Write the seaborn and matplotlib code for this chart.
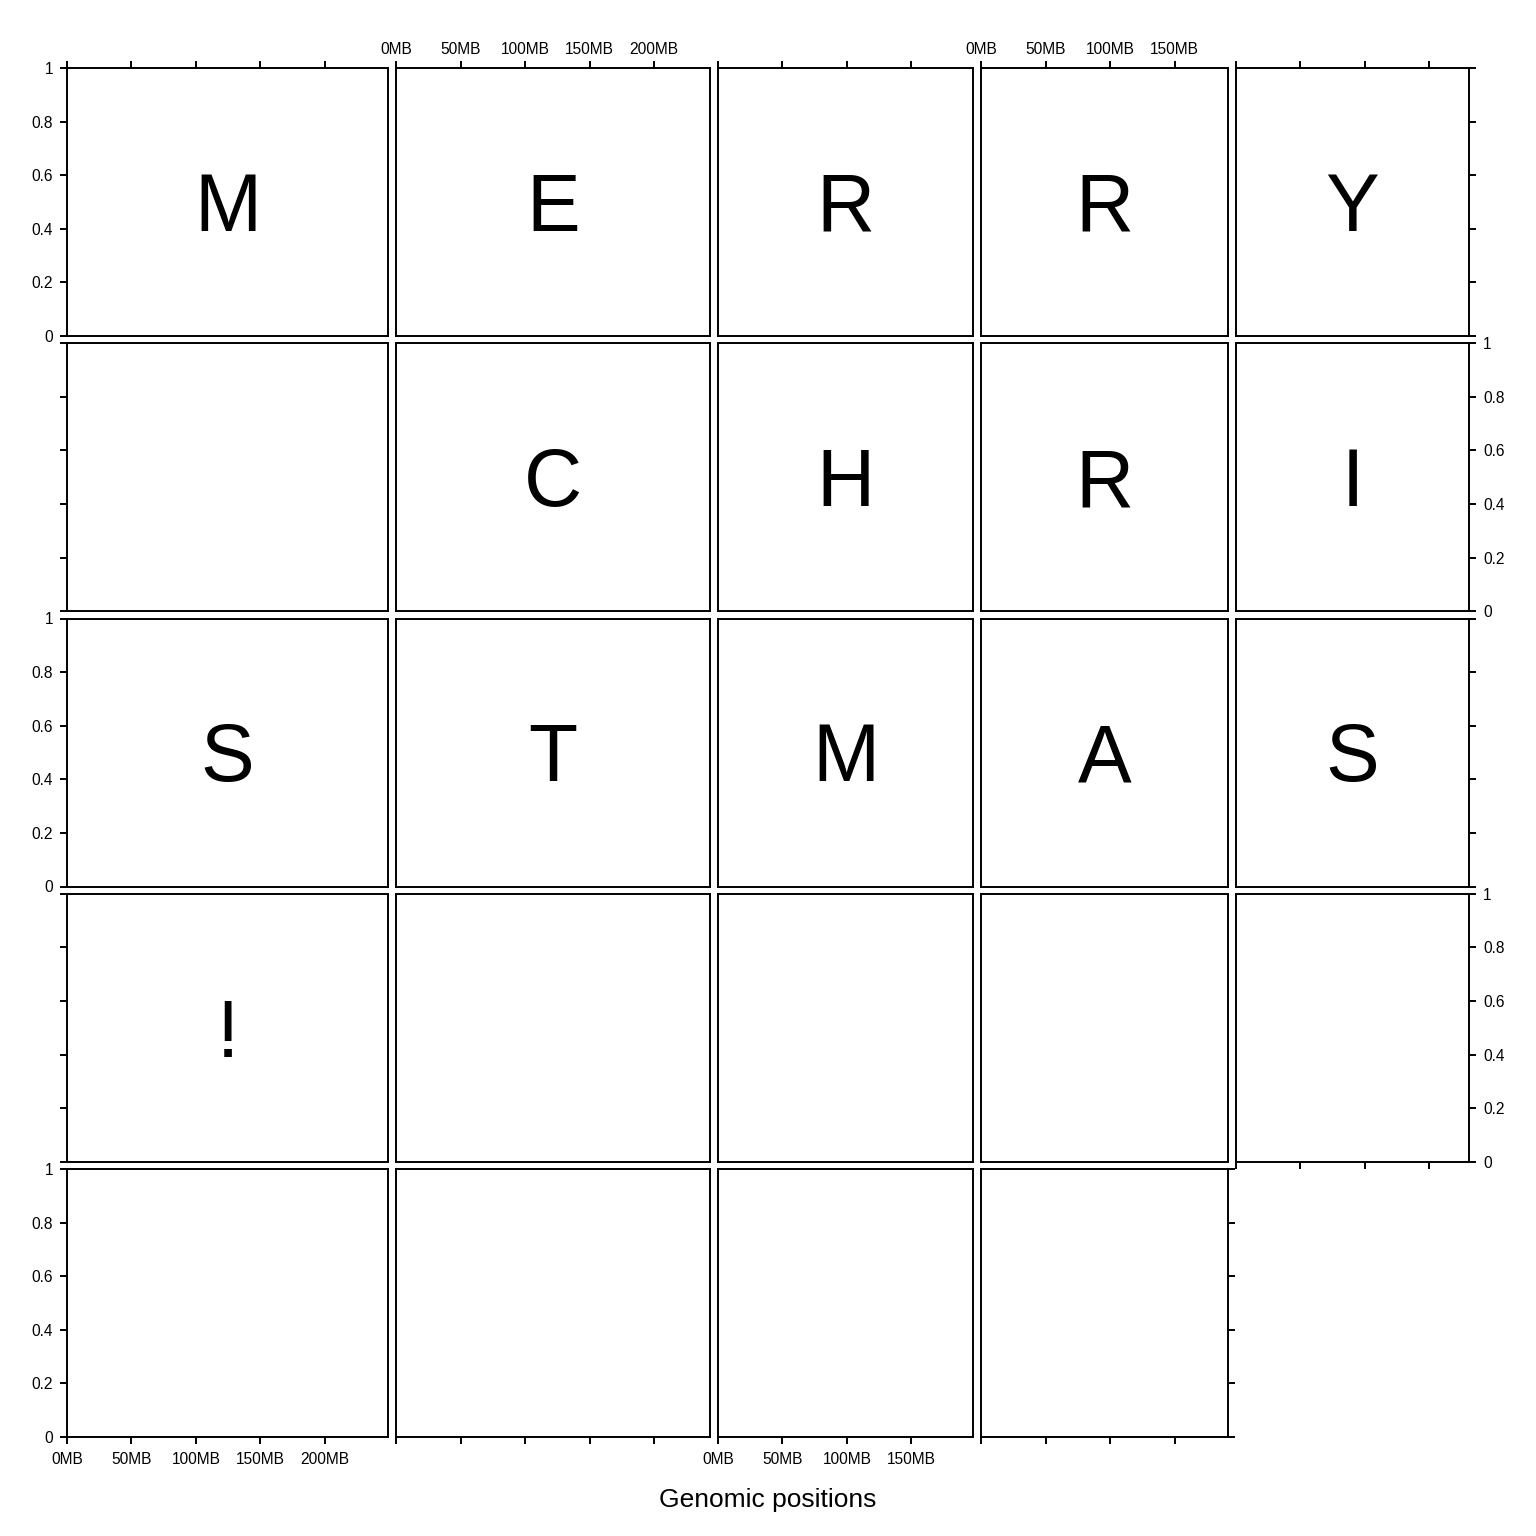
import numpy as np
import pandas as pd
import matplotlib
matplotlib.use("Agg")
import matplotlib.pyplot as plt
import seaborn as sns

# ---- data -------------------------------------------------------------
# lengths (Mb) of the chromosomes that set each column's x range
column_lengths_mb = [249.25, 243.20, 198.02, 191.15, 180.92]
# letter written in each panel, in reading order (24 panels, 5 per row)
panel_letters = ["M", "E", "R", "R", "Y",
                 "", "C", "H", "R", "I",
                 "S", "T", "M", "A", "S",
                 "!", "", "", "", "",
                 "", "", "", ""]
x_ticks_mb = [0, 50, 100, 150, 200]
y_ticks = [0, 0.2, 0.4, 0.6, 0.8, 1.0]
y_tick_labels = ["0", "0.2", "0.4", "0.6", "0.8", "1"]
x_label = "Genomic positions"

n_cols = 5
n_panels = len(panel_letters)
n_rows = int(np.ceil(n_panels / n_cols))

panels = pd.DataFrame({
    "panel": np.arange(n_panels),
    "row": np.arange(n_panels) // n_cols,
    "col": np.arange(n_panels) % n_cols,
    "letter": panel_letters,
})

# ---- style ------------------------------------------------------------
sns.set_theme(style="ticks", rc={
    "axes.edgecolor": "black",
    "axes.linewidth": 1.4,
    "xtick.color": "black",
    "ytick.color": "black",
    "xtick.major.width": 1.4,
    "ytick.major.width": 1.4,
    "xtick.major.size": 5.0,
    "ytick.major.size": 5.0,
})
plt.rcParams["font.family"] = ["Liberation Sans", "DejaVu Sans"]

W = H = 1536
fig = plt.figure(figsize=(W / 100, H / 100), dpi=100)

left0, gap = 67.0, 8.0
total_w = 1469.0 - left0 - gap * (n_cols - 1)
px_per_mb = total_w / sum(column_lengths_mb)
col_x = []
x = left0
for L in column_lengths_mb:
    col_x.append((x, L * px_per_mb))
    x += L * px_per_mb + gap
row_top0, row_step, row_h = 68.0, 275.25, 268.0

for _, p in panels.iterrows():
    r, c = int(p["row"]), int(p["col"])
    x0, w = col_x[c]
    y0 = row_top0 + r * row_step
    ax = fig.add_axes([x0 / W, 1 - (y0 + row_h) / H, w / W, row_h / H])
    L = column_lengths_mb[c]
    ax.set_xlim(0, L)
    ax.set_ylim(0, 1)
    xt = [t for t in x_ticks_mb if t <= L - 20]
    ax.set_xticks(xt)
    ax.set_xticklabels([f"{t}MB" for t in xt])
    ax.set_yticks(y_ticks)
    ax.set_yticklabels(y_tick_labels)

    last_in_row = (c == n_cols - 1) or (p["panel"] == n_panels - 1)
    last_in_col = p["panel"] + n_cols >= n_panels
    ax.tick_params(axis="x", labelsize=11.2, pad=(3 if r == 0 else 5.5),
                   top=(r == 0), labeltop=(r == 0 and c in (1, 3)),
                   bottom=bool(last_in_col),
                   labelbottom=bool(r == n_rows - 1 and c in (0, 2)))
    ax.tick_params(axis="y", labelsize=11.2, pad=5,
                   left=(c == 0), labelleft=(c == 0 and r % 2 == 0),
                   right=bool(last_in_row),
                   labelright=bool(c == n_cols - 1 and r % 2 == 1))
    for s in ax.spines.values():
        s.set_visible(True)
        s.set_linewidth(1.4)
    if p["letter"]:
        ax.text(L / 2, 0.392, p["letter"], ha="center", va="baseline",
                fontsize=58, color="black")

fig.text(768 / W, 1 - 1500 / H, x_label, ha="center", va="center",
         fontsize=19, color="black")

fig.savefig("out.png", dpi=100, facecolor="white")
